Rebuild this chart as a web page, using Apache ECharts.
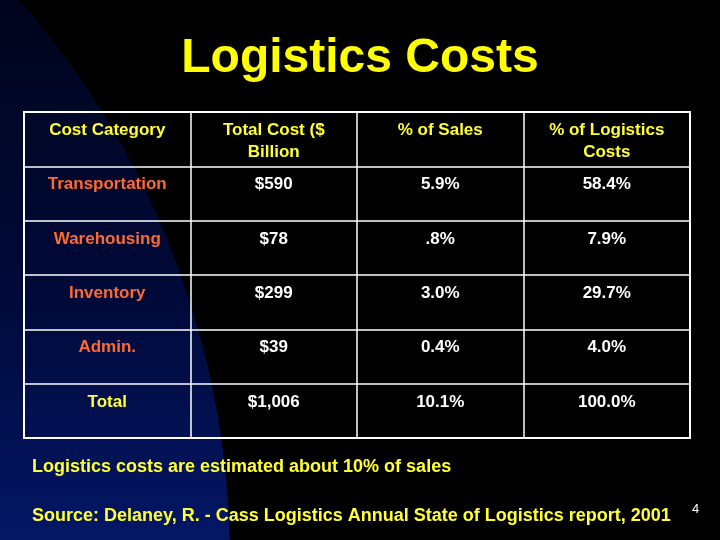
<!DOCTYPE html>
<html><head><meta charset="utf-8">
<script src="https://cdn.jsdelivr.net/npm/echarts@6/dist/echarts.min.js"></script>
<style>html,body{margin:0;padding:0;background:#000}#c{width:720px;height:540px}</style>
</head><body><div id="c"></div>
<script>
var columns = ['Cost Category', 'Total Cost ($\nBillion', '% of Sales', '% of Logistics\nCosts'];
var categories = ['Transportation', 'Warehousing', 'Inventory', 'Admin.', 'Total'];
var totalCost = ['$590', '$78', '$299', '$39', '$1,006'];
var pctSales = ['5.9%', '.8%', '3.0%', '0.4%', '10.1%'];
var pctLogistics = ['58.4%', '7.9%', '29.7%', '4.0%', '100.0%'];
var rows = ['header'].concat(categories);

var data = [];
columns.forEach(function (t, i) { data.push({ value: [i, 0], text: t, color: '#ffff33' }); });
categories.forEach(function (c, r) {
  var ri = r + 1;
  data.push({ value: [0, ri], text: c, color: c === 'Total' ? '#ffff33' : '#ff6a33' });
  data.push({ value: [1, ri], text: totalCost[r], color: '#ffffff' });
  data.push({ value: [2, ri], text: pctSales[r], color: '#ffffff' });
  data.push({ value: [3, ri], text: pctLogistics[r], color: '#ffffff' });
});
data = data.map(function (d) {
  return { value: d.value, label: { formatter: d.text, color: d.color } };
});

var FONT = '"Liberation Sans", Arial, sans-serif';
var chart = echarts.init(document.getElementById('c'));
chart.setOption({
  backgroundColor: '#000',
  animation: false,
  graphic: [
    { type: 'circle', z: -10, shape: { cx: -620, cy: 560, r: 850 },
      style: { fill: new echarts.graphic.LinearGradient(0, 0, 0, 1, [
        { offset: 0, color: '#000000' }, { offset: 0.35, color: '#000a3a' },
        { offset: 0.7, color: '#0a2aa8' }, { offset: 1, color: '#0a3ee8' }]) } },
    { type: 'text', left: 'center', top: 35, style: { text: 'Logistics Costs', fill: '#ffff00',
      font: 'bold 48px ' + FONT } },
    { type: 'text', left: 32, top: 458, style: { text: 'Logistics costs are estimated about 10% of sales', fill: '#ffff33',
      font: 'bold 18px ' + FONT } },
    { type: 'text', left: 32, top: 507, style: { text: 'Source: Delaney, R. - Cass Logistics Annual State of Logistics report, 2001', fill: '#ffff33',
      font: 'bold 18px ' + FONT } },
    { type: 'text', left: 692, top: 503, style: { text: '4', fill: '#ffffff',
      font: '13px ' + FONT } },
    { type: 'rect', z: 5, shape: { x: 24, y: 112, width: 666, height: 326 },
      style: { fill: 'none', stroke: '#fff', lineWidth: 2 } }
  ],
  grid: { left: 24, right: 30, top: 112, bottom: 102 },
  xAxis: { type: 'category', data: columns, position: 'top', boundaryGap: true,
    axisLabel: { show: false }, axisTick: { show: false },
    axisLine: { show: true, lineStyle: { color: '#fff', width: 2 } },
    splitLine: { show: true, lineStyle: { color: '#fff', width: 1.5 } } },
  yAxis: { type: 'category', data: rows, inverse: true, boundaryGap: true,
    axisLabel: { show: false }, axisTick: { show: false },
    axisLine: { show: true, lineStyle: { color: '#fff', width: 2 } },
    splitLine: { show: true, lineStyle: { color: '#fff', width: 1.5 } } },
  series: [{
    type: 'scatter', symbolSize: 0, data: data, itemStyle: { opacity: 1 },
    label: { show: true, position: 'inside', verticalAlign: 'top', align: 'center', offset: [0, -20],
      fontSize: 17, fontWeight: 'bold', lineHeight: 22, fontFamily: FONT }
  }]
});
</script></body></html>
